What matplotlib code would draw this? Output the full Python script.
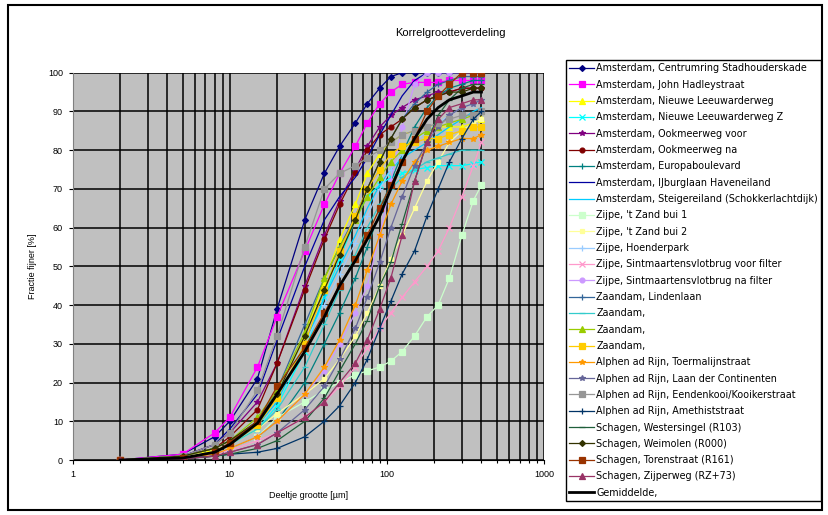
import matplotlib.pyplot as plt
from matplotlib.patches import Rectangle
from matplotlib.ticker import FixedLocator, NullFormatter

plt.rcParams['font.family'] = ['Liberation Sans', 'DejaVu Sans']

# korrelgrootte (um) waarop gemeten is
sizes = [2, 5, 8, 10, 15, 20, 30, 40, 50, 63, 75, 90, 106, 125, 150, 180, 212, 250, 300, 355, 400]

labels = [
    "Amsterdam, Centrumring Stadhouderskade",
    "Amsterdam, John Hadleystraat",
    "Amsterdam, Nieuwe Leeuwarderweg",
    "Amsterdam, Nieuwe Leeuwarderweg Z",
    "Amsterdam, Ookmeerweg voor",
    "Amsterdam, Ookmeerweg na",
    "Amsterdam, Europaboulevard",
    "Amsterdam, IJburglaan Haveneiland",
    "Amsterdam, Steigereiland (Schokkerlachtdijk)",
    "Zijpe, 't Zand bui 1",
    "Zijpe, 't Zand bui 2",
    "Zijpe, Hoenderpark",
    "Zijpe, Sintmaartensvlotbrug voor filter",
    "Zijpe, Sintmaartensvlotbrug na filter",
    "Zaandam, Lindenlaan",
    "Zaandam,",
    "Zaandam,",
    "Zaandam,",
    "Alphen ad Rijn, Toermalijnstraat",
    "Alphen ad Rijn, Laan der Continenten",
    "Alphen ad Rijn, Eendenkooi/Kooikerstraat",
    "Alphen ad Rijn, Amethiststraat",
    "Schagen, Westersingel (R103)",
    "Schagen, Weimolen (R000)",
    "Schagen, Torenstraat (R161)",
    "Schagen, Zijperweg (RZ+73)",
    "Gemiddelde,",
]

# fractie fijner (%) per meetpunt
centrumring = [0, 1.5, 6, 10, 21, 39, 62, 74, 81, 87, 92, 96, 99, 100, 100, 100, 100, 100, 100, 100, 100]
hadleystraat = [0, 1.5, 7, 11, 24, 37, 54, 66, 74, 81, 87, 92, 95, 97, 97.5, 97.5, 97.5, 98, 98, 98, 98]
leeuwarderweg = [0, 1, 2.5, 4, 10, 17, 32, 46, 57, 66, 74, 79, 82, 84, 85, 86, 86, 86, 86, 87, 88]
leeuwarderweg_z = [0, 0.5, 2, 4, 8, 14, 28, 42, 52, 62, 68, 71, 73, 74, 75, 75.5, 76, 76, 76, 76.5, 77]
ookmeerweg_voor = [0, 1, 4, 7, 15, 25, 45, 58, 67, 75, 81, 86, 89, 91, 93, 94, 95, 95, 96, 96, 96]
ookmeerweg_na = [0, 1, 3, 6, 13, 25, 44, 57, 66, 74, 80, 84, 86, 88, 91, 93, 94, 95, 96, 96, 96]
europaboulevard = [0, 0.5, 1.5, 3, 6, 10, 20, 30, 38, 47, 55, 64, 72, 79, 86, 91, 94, 96, 97, 98, 98]
ijburglaan = [0, 1, 4, 8, 17, 31, 50, 62, 68, 73, 78, 84, 89, 94, 98, 100, 100, 100, 100, 100, 100]
steigereiland = [0, 0.5, 2, 4, 9, 15, 30, 42, 50, 58, 65, 71, 75, 78, 80, 82, 84, 86, 88, 90, 91]
zand_1 = [0, 0.5, 1.5, 3, 6, 11, 15, 18, 20, 22, 23, 24, 25.5, 28, 32, 37, 40, 47, 58, 67, 71]
zand_2 = [0, 1, 2, 4, 8, 12, 17, 21, 26, 32, 38, 45, 52, 58, 65, 72, 77, 82, 85, 87, 88]
hoenderpark = [0, 1, 3, 5, 11, 18, 30, 40, 48, 56, 63, 70, 75, 79, 82, 85, 87, 89, 91, 92, 93]
vlotbrug_voor = [0, 0.5, 1.5, 2.5, 5, 7, 11, 15, 19, 24, 29, 34, 38, 42, 46, 50, 54, 60, 68, 76, 82]
vlotbrug_na = [0, 0.5, 1.5, 3, 6, 10, 17, 23, 30, 38, 45, 58, 72, 86, 97, 100, 100, 100, 100, 100, 100]
lindenlaan = [0, 1, 3, 5, 10, 18, 35, 47, 55, 63, 70, 77, 83, 88, 92, 95, 97, 98, 99, 99, 99]
zaandam_a = [0, 0.5, 2, 4, 8, 13, 24, 35, 44, 53, 60, 66, 70, 73, 75, 77, 78, 79, 80, 80, 80]
zaandam_b = [0, 1, 3, 5, 11, 18, 33, 47, 55, 62, 68, 73, 77, 80, 83, 85, 86, 87, 88, 89, 90]
zaandam_c = [0, 0.5, 2, 4, 9, 16, 30, 44, 54, 63, 70, 75, 79, 81, 82, 83, 83, 84, 85, 86, 86]
toermalijn = [0, 0.5, 1.5, 3, 6, 10, 17, 24, 31, 40, 49, 58, 66, 72, 77, 80, 81, 82, 83, 83, 84]
continenten = [0, 0.5, 1, 2, 4, 7, 13, 19, 26, 34, 42, 51, 60, 68, 76, 82, 86, 89, 91, 92, 93]
eendenkooi = [0, 1, 4, 7, 18, 32, 55, 70, 74, 76, 78, 80, 82, 84, 85, 86, 87, 88, 89, 89, 90]
amethist = [0, 0.3, 1, 1.5, 2, 3, 6, 10, 14, 20, 26, 34, 41, 48, 54, 63, 70, 77, 83, 88, 90]
westersingel = [0, 0.3, 1, 1.5, 3, 5, 10, 16, 23, 30, 36, 45, 51, 61, 72, 82, 89, 93, 96, 97, 97]
weimolen = [0, 1, 3, 5, 10, 17, 32, 44, 53, 62, 70, 77, 83, 88, 91, 93, 94, 95, 95, 96, 96]
torenstraat = [0, 0.5, 2, 4.5, 10, 19, 29, 38, 45, 52, 58, 65, 71, 77, 83, 90, 94, 97, 100, 100, 100]
zijperweg = [0, 0.3, 1, 2, 4, 7, 11, 15, 20, 25, 31, 39, 47, 58, 72, 82, 88, 91, 92, 93, 93]
gemiddelde = [0, 0.5, 2, 4, 9.5, 17, 28, 37, 45, 51.5, 57, 63, 70, 77, 83, 88, 91, 93, 94, 95, 95]

series = [centrumring, hadleystraat, leeuwarderweg, leeuwarderweg_z, ookmeerweg_voor,
          ookmeerweg_na, europaboulevard, ijburglaan, steigereiland, zand_1, zand_2,
          hoenderpark, vlotbrug_voor, vlotbrug_na, lindenlaan, zaandam_a, zaandam_b,
          zaandam_c, toermalijn, continenten, eendenkooi, amethist, westersingel,
          weimolen, torenstraat, zijperweg, gemiddelde]

# excel-achtige kleuren en markers
colors = ['#000080', '#FF00FF', '#FFFF00', '#00FFFF', '#800080', '#800000', '#008080',
          '#0000A0', '#00CCFF', '#CCFFCC', '#FFFF99', '#99CCFF', '#FF99CC', '#CC99FF',
          '#336699', '#33CCCC', '#99CC00', '#FFCC00', '#FF9900', '#666699', '#969696',
          '#003366', '#1F5F3A', '#333300', '#993300', '#993366', '#000000']
markers = ['D', 's', '^', 'x', '*', 'o', '+', '', '', 's', 's', '+', 'x', 'o',
           '+', '_', '^', 's', '*', '*', 's', '+', '_', 'D', 's', '^', '']
msizes = [3, 4, 4, 4, 4, 3.5, 4, 0, 0, 4, 3, 4, 4, 3.5, 4, 4, 4, 4, 4, 4, 4, 4, 4, 3, 5, 4, 0]

fig = plt.figure(figsize=(8.29, 5.15), dpi=100)
fig.patch.set_facecolor('white')

# rand om het hele diagram
fig.add_artist(Rectangle((8 / 829, 1 - 510 / 515), 814 / 829, 505 / 515,
                         transform=fig.transFigure, fill=False, edgecolor='black', lw=1.5))

ax = fig.add_axes([72.7 / 829, 1 - 460 / 515, (544 - 72.7) / 829, (460 - 72.7) / 515])
ax.set_facecolor('#C0C0C0')

for vals, lab, c, m, ms in zip(series, labels, colors, markers, msizes):
    lw = 2.0 if lab.startswith('Gemiddelde') else 0.9
    ax.plot(sizes, vals, color=c, marker=m, markersize=ms, lw=lw, label=lab,
            markeredgewidth=0.9)

ax.set_xscale('log')
ax.set_xlim(1, 1000)
ax.set_ylim(0, 100)
ax.set_yticks(range(0, 101, 10))
ax.set_xticks([1, 10, 100, 1000])
ax.set_xticklabels(['1', '10', '100', '1000'])
minor = [k * 10 ** e for e in range(0, 3) for k in range(2, 10)]
ax.xaxis.set_minor_locator(FixedLocator(minor))
ax.xaxis.set_minor_formatter(NullFormatter())
ax.grid(True, which='both', axis='x', color='black', lw=1.1)
ax.grid(True, which='major', axis='y', color='black', lw=1.1)
ax.set_axisbelow(True)
for s in ['top', 'right']:
    ax.spines[s].set_visible(False)
ax.spines['left'].set_color('#808080')
ax.spines['bottom'].set_color('black')
ax.tick_params(axis='both', which='both', labelsize=6.5, length=3, width=0.8, pad=4)
ax.tick_params(axis='x', which='minor', length=2)

ax.set_xlabel('Deeltje grootte [µm]', fontsize=6.5, labelpad=9)
ax.set_ylabel('Fractie fijner [%]', fontsize=6.5, labelpad=8)
fig.text(450 / 829, 1 - 33 / 515, 'Korrelgrootteverdeling', ha='center', va='center', fontsize=8)

leg = fig.legend(loc='upper left', mode='expand',
                 bbox_to_anchor=(566 / 829, 1 - 502 / 515, (821 - 566) / 829, 442 / 515),
                 prop={'family': 'DejaVu Sans', 'size': 6.9},
                 numpoints=1, handlelength=2.6, handletextpad=0.2, labelspacing=0.66,
                 borderaxespad=0, borderpad=0.35, fancybox=False, framealpha=1,
                 edgecolor='black')
leg.get_frame().set_linewidth(1.0)

plt.savefig('out.png', dpi=100)
